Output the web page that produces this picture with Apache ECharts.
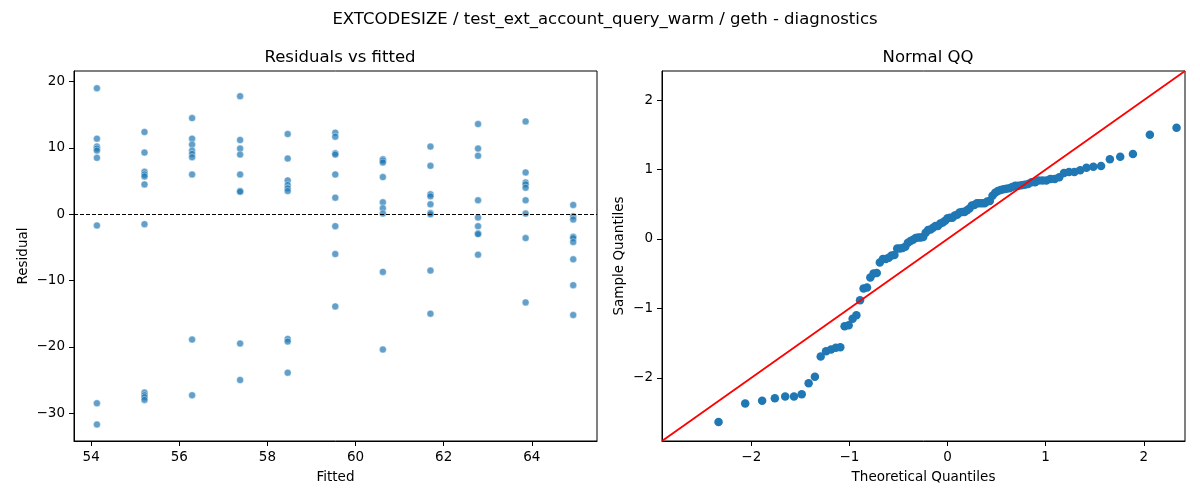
<!DOCTYPE html>
<html>
<head>
<meta charset="UTF-8">
<title>EXTCODESIZE diagnostics</title>
<script src="https://cdn.jsdelivr.net/npm/echarts@6/dist/echarts.min.js"></script>
</head>
<body style="margin:0;background-color:#fff;">
<div id="main" style="width:1200px;height:500px;"></div>
<script type="text/javascript">
// fitted levels (one column of points per level)
var fitted = [54.13, 55.21, 56.29, 57.38, 58.46, 59.54, 60.62, 61.70, 62.78, 63.86, 64.94];

// residuals read per fitted level
var res0 = [19.0, 11.4, 10.2, 9.9, 9.6, 8.5, -1.7, -28.5, -31.7];
var res1 = [12.4, 9.3, 6.4, 6.0, 5.7, 4.5, -1.5, -26.9, -27.3, -27.6, -28.0];
var res2 = [14.5, 11.4, 10.5, 9.6, 9.1, 8.6, 6.0, -18.9, -27.3];
var res3 = [17.8, 11.2, 9.9, 9.0, 6.0, 3.5, 3.4, -19.5, -25.0];
var res4 = [12.1, 8.4, 5.1, 4.4, 3.9, 3.5, -18.8, -19.2, -23.9];
var res5 = [12.3, 11.7, 9.2, 9.0, 6.0, 2.5, -1.8, -6.0, -13.9];
var res6 = [8.3, 8.1, 7.8, 5.6, 1.8, 0.9, 0.1, -8.7, -20.4];
var res7 = [10.2, 7.3, 3.0, 2.7, 1.5, 0.2, 0.0, -8.5, -15.0];
var res8 = [13.6, 9.9, 8.8, 2.1, -0.5, -1.8, -2.9, -3.0, -6.1];
var res9 = [14.0, 6.3, 4.8, 4.5, 4.0, 2.1, 0.1, -3.6, -13.3];
var res10 = [1.4, -0.3, -0.8, -3.4, -3.6, -4.2, -6.8, -10.7, -15.2];

// tick labels
var fittedTicks = [54, 56, 58, 60, 62, 64];
var residTicks = [-30, -20, -10, 0, 10, 20];
var qqTicks = [-2, -1, 0, 1, 2];

// axis limits
var fittedMin = 53.61, fittedMax = 65.48;
var residMin = -34.2, residMax = 21.6;
var qqMin = -2.91, qqMax = 2.42;

var groups = [res0, res1, res2, res3, res4, res5, res6, res7, res8, res9, res10];
var residPoints = [];
var allResid = [];
for (var i = 0; i < groups.length; i++) {
	for (var j = 0; j < groups[i].length; j++) {
		residPoints.push([fitted[i], groups[i][j]]);
		allResid.push(groups[i][j]);
	}
}

// normal quantile function (Acklam)
function normPpf(p) {
	var a = [-3.969683028665376e+01, 2.209460984245205e+02, -2.759285104469687e+02, 1.383577518672690e+02, -3.066479806614716e+01, 2.506628277459239e+00];
	var b = [-5.447609879822406e+01, 1.615858368580409e+02, -1.556989798598866e+02, 6.680131188771972e+01, -1.328068155288572e+01];
	var c = [-7.784894002430293e-03, -3.223964580411365e-01, -2.400758277161838e+00, -2.549732539343734e+00, 4.374664141464968e+00, 2.938163982698783e+00];
	var d = [7.784695709041462e-03, 3.224671290700398e-01, 2.445134137142996e+00, 3.754408661907416e+00];
	var pl = 0.02425, q, r;
	if (p < pl) {
		q = Math.sqrt(-2 * Math.log(p));
		return (((((c[0]*q+c[1])*q+c[2])*q+c[3])*q+c[4])*q+c[5]) / ((((d[0]*q+d[1])*q+d[2])*q+d[3])*q+1);
	}
	if (p <= 1 - pl) {
		q = p - 0.5; r = q * q;
		return (((((a[0]*r+a[1])*r+a[2])*r+a[3])*r+a[4])*r+a[5])*q / (((((b[0]*r+b[1])*r+b[2])*r+b[3])*r+b[4])*r+1);
	}
	q = Math.sqrt(-2 * Math.log(1 - p));
	return -(((((c[0]*q+c[1])*q+c[2])*q+c[3])*q+c[4])*q+c[5]) / ((((d[0]*q+d[1])*q+d[2])*q+d[3])*q+1);
}

// QQ points: sorted standardized residuals vs normal quantiles
var n = allResid.length;
var mean = allResid.reduce(function (s, v) { return s + v; }, 0) / n;
var sd = Math.sqrt(allResid.reduce(function (s, v) { return s + (v - mean) * (v - mean); }, 0) / n);
var sorted = allResid.slice().sort(function (x, y) { return x - y; });
var qqPoints = sorted.map(function (v, k) {
	return [normPpf((k + 1) / (n + 1)), (v - mean) / sd];
});

var font = 'DejaVu Sans';
function fmt(v) { return v < 0 ? '\u2212' + Math.abs(v) : String(v); }

function valueAxis(grid, min, max, ticks, name, gap) {
	return {
		type: 'value', gridIndex: grid, min: min, max: max,
		name: name, nameLocation: 'middle', nameGap: gap,
		nameTextStyle: { fontSize: 13.5, color: '#000', fontFamily: font },
		axisLine: { show: true, onZero: false, lineStyle: { color: '#000', width: 1 } },
		axisTick: { show: true, inside: false, length: 5, customValues: ticks, lineStyle: { color: '#000' } },
		axisLabel: { customValues: ticks, formatter: fmt, fontSize: 13.5, color: '#000', fontFamily: font, margin: 9 },
		splitLine: { show: false }
	};
}

var titleStyle = { fontSize: 16.5, fontWeight: 'normal', color: '#000', fontFamily: font };

var myChart = echarts.init(document.getElementById('main'));
myChart.setOption({
	animation: false,
	backgroundColor: '#fff',
	title: [{
		text: 'EXTCODESIZE / test_ext_account_query_warm / geth - diagnostics',
		left: 600, top: 6, textAlign: 'center', textStyle: titleStyle
	}, {
		text: 'Residuals vs fitted',
		left: 335, top: 44, textAlign: 'center', textStyle: titleStyle
	}, {
		text: 'Normal QQ',
		left: 923, top: 44, textAlign: 'center', textStyle: titleStyle
	}],
	grid: [
		{ left: 74, right: 603, top: 71, bottom: 59, show: true, borderColor: '#000', borderWidth: 1, backgroundColor: 'transparent' },
		{ left: 662, right: 15, top: 71, bottom: 59, show: true, borderColor: '#000', borderWidth: 1, backgroundColor: 'transparent' }
	],
	xAxis: [
		valueAxis(0, fittedMin, fittedMax, fittedTicks, 'Fitted', 29),
		valueAxis(1, qqMin, qqMax, qqTicks, 'Theoretical Quantiles', 29)
	],
	yAxis: [
		valueAxis(0, residMin, residMax, residTicks, 'Residual', 44),
		valueAxis(1, qqMin, qqMax, qqTicks, 'Sample Quantiles', 36)
	],
	series: [{
		type: 'scatter', xAxisIndex: 0, yAxisIndex: 0,
		data: residPoints,
		symbolSize: 7,
		itemStyle: { color: '#1f77b4', opacity: 0.7, borderColor: '#fff', borderWidth: 0.6 },
		markLine: {
			silent: true, symbol: 'none', label: { show: false },
			lineStyle: { type: [4, 2], color: '#000', width: 1 },
			data: [{ yAxis: 0 }]
		}
	}, {
		type: 'scatter', xAxisIndex: 1, yAxisIndex: 1,
		data: qqPoints,
		symbolSize: 8.5,
		itemStyle: { color: '#1f77b4', opacity: 1 }
	}, {
		type: 'line', xAxisIndex: 1, yAxisIndex: 1,
		data: [[qqMin, qqMin], [qqMax, qqMax]],
		symbol: 'none', z: 5,
		lineStyle: { color: '#ff0000', width: 1.8 }
	}]
});
</script>
</body>
</html>
